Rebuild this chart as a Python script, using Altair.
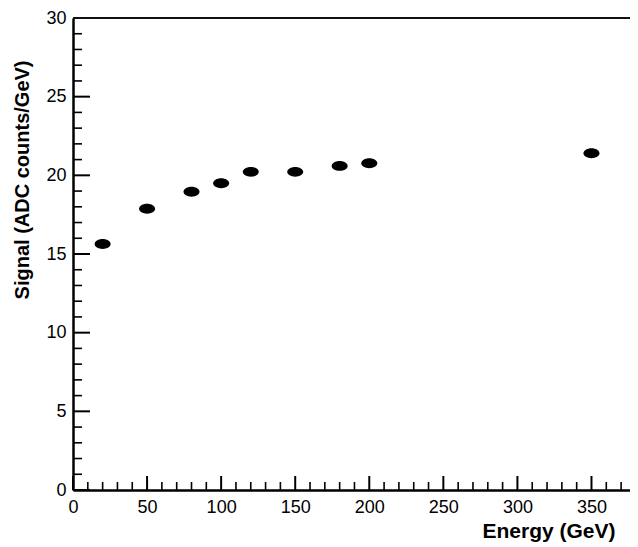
import altair as alt
import pandas as pd

energy = [20, 50, 80, 100, 120, 150, 180, 200, 350]
signal = [15.64, 17.88, 18.96, 19.5, 20.22, 20.22, 20.6, 20.77, 21.4]

x_major = [0, 50, 100, 150, 200, 250, 300, 350]
x_minor = [v for v in range(10, 380, 10) if v % 50 != 0]
y_major = [0, 5, 10, 15, 20, 25, 30]
y_minor = [v for v in range(1, 30) if v % 5 != 0]

W, H = 557, 472
FONT = "Liberation Sans"

xscale = alt.Scale(domain=[0, 376], nice=False, zero=False)
yscale = alt.Scale(domain=[0, 30], nice=False, zero=False)

pts = pd.DataFrame({"energy": energy, "signal": signal})

ellipse = "M-1,0A1,0.62,0,1,1,1,0A1,0.62,0,1,1,-1,0Z"

points = alt.Chart(pts).mark_point(
    shape=ellipse, filled=True, color="black", opacity=1, size=256
).encode(
    x=alt.X("energy:Q", scale=xscale, axis=alt.Axis(
        title="Energy (GeV)", values=x_major, ticks=False, tickSize=0, grid=False,
        domainColor="black", domainWidth=2.5, labelFont=FONT, labelFontSize=18,
        labelColor="black", labelPadding=8, labelFlush=False,
        titleFont=FONT, titleFontSize=21, titleFontWeight="bold", titleColor="black",
        titleAnchor="end", titleAlign="right", titleBaseline="alphabetic",
        titleX=542, titleY=47)),
    y=alt.Y("signal:Q", scale=yscale, axis=alt.Axis(
        title="Signal (ADC counts/GeV)", values=y_major, ticks=False, tickSize=0, grid=False,
        domainColor="black", domainWidth=2.5, labelFont=FONT, labelFontSize=18,
        labelColor="black", labelPadding=7, labelFlush=False,
        titleFont=FONT, titleFontSize=20, titleFontWeight="bold", titleColor="black",
        titleAngle=270, titleAlign="right", titleBaseline="alphabetic",
        titleX=-45, titleY=42)),
)

xmaj = alt.Chart(pd.DataFrame({"v": x_major})).mark_rule(color="black", strokeWidth=2).encode(
    x=alt.X("v:Q", scale=xscale), y=alt.value(H), y2=alt.value(H - 14))
xmin = alt.Chart(pd.DataFrame({"v": x_minor})).mark_rule(color="black", strokeWidth=1.6).encode(
    x=alt.X("v:Q", scale=xscale), y=alt.value(H), y2=alt.value(H - 8))
ymaj = alt.Chart(pd.DataFrame({"v": y_major})).mark_rule(color="black", strokeWidth=2).encode(
    y=alt.Y("v:Q", scale=yscale), x=alt.value(0), x2=alt.value(17))
ymin = alt.Chart(pd.DataFrame({"v": y_minor})).mark_rule(color="black", strokeWidth=1.6).encode(
    y=alt.Y("v:Q", scale=yscale), x=alt.value(0), x2=alt.value(9))
top = alt.Chart(pd.DataFrame({"v": [30]})).mark_rule(color="#111111", strokeWidth=2).encode(
    y=alt.Y("v:Q", scale=yscale), x=alt.value(0), x2=alt.value(W))

chart = alt.layer(xmin, xmaj, ymin, ymaj, top, points).properties(
    width=W, height=H,
    padding={"left": 65, "top": 10, "right": 0, "bottom": 57},
    autosize=alt.AutoSizeParams(type="none"),
).configure_view(stroke=None).configure(background="white")

chart.save("out.html", embed_options={"renderer": "svg", "actions": False})
